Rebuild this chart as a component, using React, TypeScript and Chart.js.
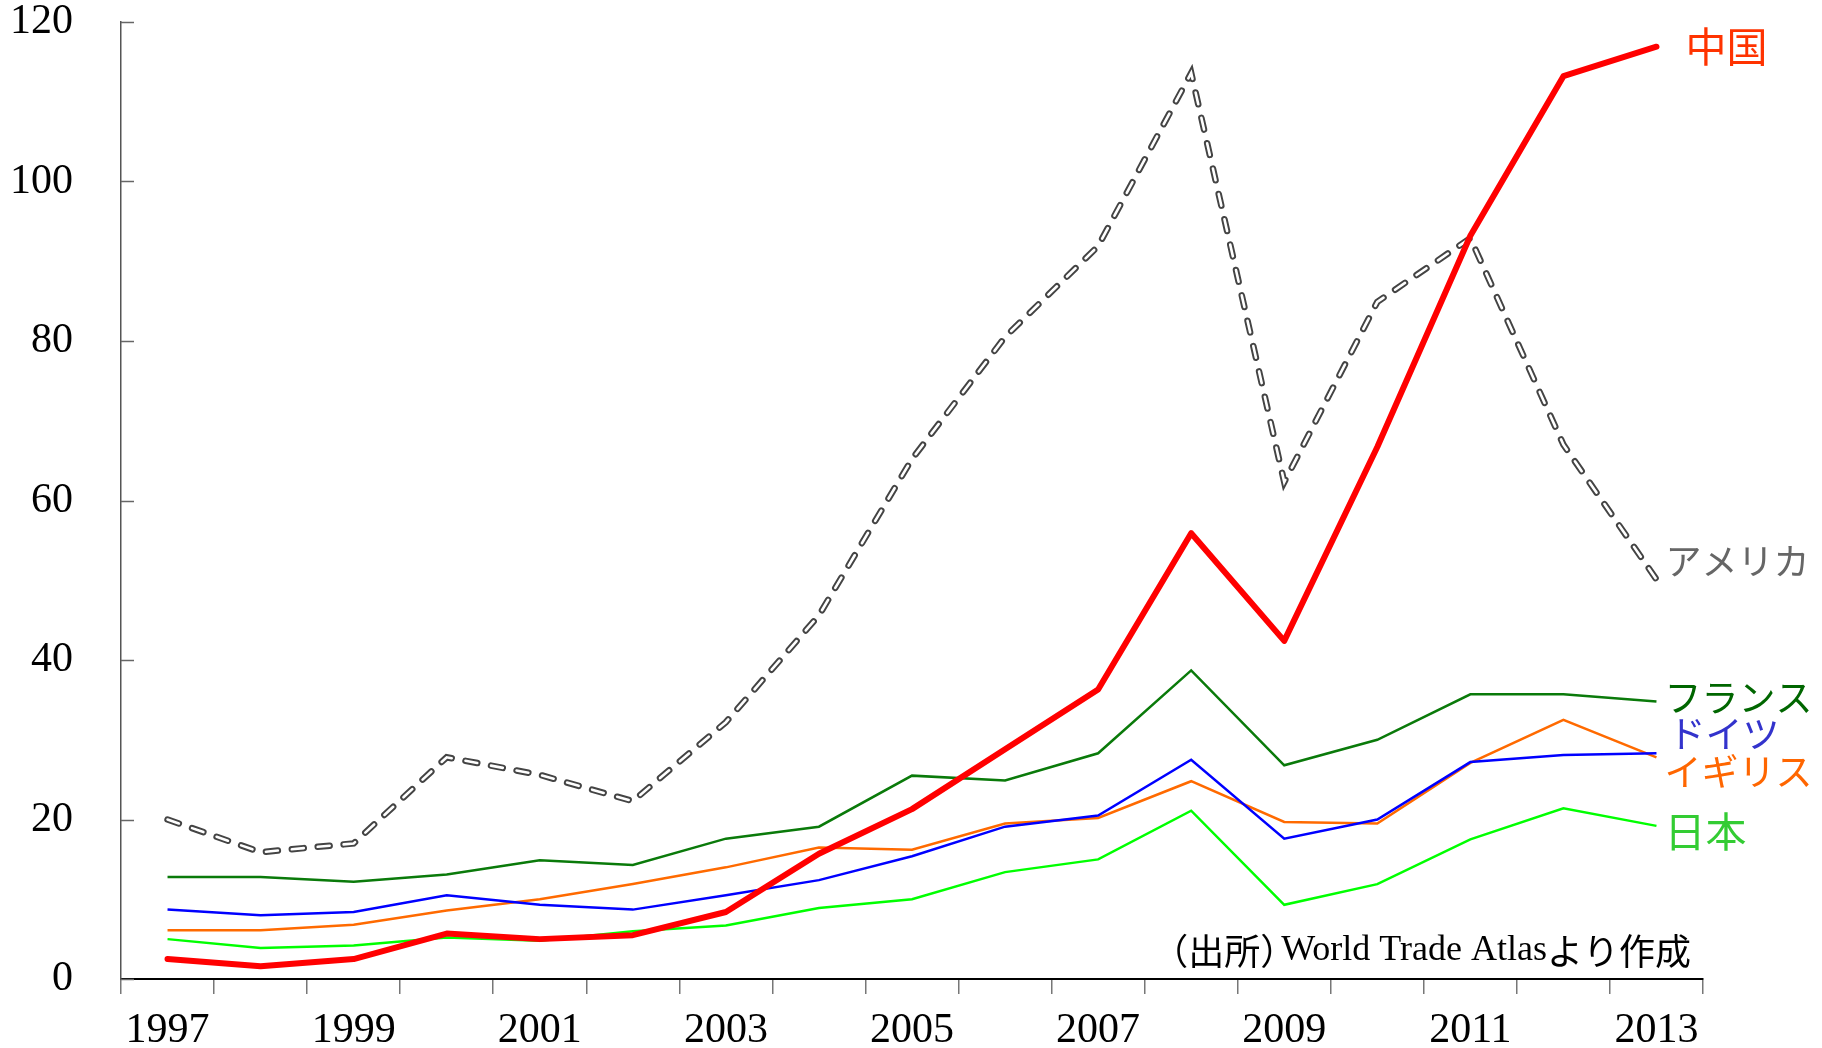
import React, { useEffect, useRef } from 'react';
import { Chart, registerables } from 'chart.js';

Chart.register(...registerables);

const years = ['1997', '1998', '1999', '2000', '2001', '2002', '2003', '2004', '2005', '2006', '2007', '2008', '2009', '2010', '2011', '2012', '2013'];
const chinaValues = [2.5, 1.6, 2.5, 5.7, 5.0, 5.5, 8.4, 15.7, 21.3, 28.8, 36.3, 55.9, 42.4, 66.7, 93.2, 113.2, 116.9];
const usaValues = [20.0, 15.9, 17.0, 27.8, 25.6, 22.3, 32.2, 45.6, 65.2, 80.5, 91.9, 113.6, 62.3, 84.9, 92.9, 67.0, 50.1];
const franceValues = [12.8, 12.8, 12.2, 13.1, 14.9, 14.3, 17.6, 19.1, 25.5, 24.9, 28.3, 38.7, 26.8, 30.0, 35.7, 35.7, 34.8];
const germanyValues = [8.7, 8.0, 8.4, 10.5, 9.3, 8.7, 10.5, 12.4, 15.4, 19.1, 20.5, 27.5, 17.6, 20.0, 27.2, 28.1, 28.3];
const ukValues = [6.1, 6.1, 6.8, 8.6, 10.0, 11.9, 14.0, 16.5, 16.2, 19.5, 20.2, 24.8, 19.7, 19.5, 27.1, 32.5, 27.8];
const japanValues = [5.0, 3.9, 4.2, 5.2, 4.8, 6.0, 6.7, 8.9, 10.0, 13.4, 15.0, 21.1, 9.3, 11.9, 17.5, 21.4, 19.2];

const yTickValues = [0, 20, 40, 60, 80, 100, 120];

const seriesNames = ['中国', 'アメリカ', 'フランス', 'ドイツ', 'イギリス', '日本'];
const seriesLabelValues = [chinaValues, usaValues, franceValues, germanyValues, ukValues, japanValues];
const labelColors = ['#ff3300', '#666666', '#006600', '#3333cc', '#ff6600', '#33cc33'];
const labelFontSizes = [41, 36, 37, 37, 37, 41];
const labelOffsetsX = [29, 9, 8, 12, 8, 8];
const labelOffsetsY = [0, -18, -4, -19, 15, 6];
const sourceNote = '（出所）World Trade Atlasより作成';

const SERIF = '"Liberation Serif", "Times New Roman", serif';
const CJK = '"Noto Sans CJK JP", "Noto Sans", sans-serif';

const annotationPlugin = {
  id: 'annotations',
  afterDraw(chart: any) {
    const ctx = chart.ctx;
    const xs = chart.scales.x;
    const ys = chart.scales.y;
    const area = chart.chartArea;
    ctx.save();
    // inward y ticks
    ctx.strokeStyle = '#666666';
    ctx.lineWidth = 1.5;
    yTickValues.forEach((v) => {
      const py = Math.round(ys.getPixelForValue(v)) + 0.5;
      ctx.beginPath();
      ctx.moveTo(area.left, py);
      ctx.lineTo(area.left + 13, py);
      ctx.stroke();
    });
    // series labels
    ctx.textAlign = 'left';
    ctx.textBaseline = 'middle';
    seriesNames.forEach((name, i) => {
      const vals = seriesLabelValues[i];
      const last = vals.length - 1;
      const px = xs.getPixelForValue(last);
      const py = ys.getPixelForValue(vals[last]);
      ctx.font = `${labelFontSizes[i]}px ${CJK}`;
      ctx.fillStyle = labelColors[i];
      ctx.fillText(name, px + labelOffsetsX[i], py + labelOffsetsY[i]);
    });
    // source note, drawn in runs (serif latin, gothic kana/kanji)
    const size = 36;
    const runs: string[] = sourceNote.match(/[\x00-\x7F]+|[^\x00-\x7F]+/g) || [];
    const measured = runs.map((r) => {
      const ascii = /^[\x00-\x7F]+$/.test(r);
      ctx.font = `${size}px ${ascii ? SERIF : CJK}`;
      let w = ctx.measureText(r).width;
      if (r.endsWith('）')) w -= size * 0.42;
      return { r, ascii, w };
    });
    const total = measured.reduce((s, m) => s + m.w, 0);
    let x = area.right - 12 - total;
    const y = area.bottom - 28;
    ctx.fillStyle = '#000000';
    ctx.textAlign = 'left';
    measured.forEach((m) => {
      ctx.font = `${size}px ${m.ascii ? SERIF : CJK}`;
      ctx.fillText(m.r, x, y);
      x += m.w;
    });
    ctx.restore();
  },
};

export default function App() {
  const ref = useRef<HTMLCanvasElement | null>(null);

  useEffect(() => {
    if (!ref.current) return;
    const lineBase = {
      pointRadius: 0,
      tension: 0,
      fill: false,
    };
    const chart = new Chart(ref.current, {
      type: 'line',
      data: {
        labels: years,
        datasets: [
          { ...lineBase, label: '中国', data: chinaValues, borderColor: '#ff0000', borderWidth: 6, borderCapStyle: 'round', borderJoinStyle: 'round' },
          { ...lineBase, label: 'アメリカ_inner', data: usaValues, borderColor: '#ffffff', borderWidth: 2.6, borderDash: [12, 14], borderCapStyle: 'round' },
          { ...lineBase, label: 'アメリカ', data: usaValues, borderColor: '#444444', borderWidth: 6.5, borderDash: [12, 14], borderCapStyle: 'round' },
          { ...lineBase, label: 'フランス', data: franceValues, borderColor: '#0a7a0a', borderWidth: 2.5 },
          { ...lineBase, label: 'ドイツ', data: germanyValues, borderColor: '#0000ff', borderWidth: 2.5 },
          { ...lineBase, label: 'イギリス', data: ukValues, borderColor: '#ff6a00', borderWidth: 2.5 },
          { ...lineBase, label: '日本', data: japanValues, borderColor: '#00ff00', borderWidth: 2.5 },
        ] as any,
      },
      options: {
        animation: false,
        responsive: false,
        maintainAspectRatio: false,
        events: [],
        layout: { padding: { left: 0, right: 119, top: 22, bottom: 0 } },
        plugins: { legend: { display: false }, tooltip: { enabled: false } },
        scales: {
          x: {
            type: 'category',
            offset: true,
            grid: {
              display: true,
              offset: true,
              drawOnChartArea: false,
              drawTicks: true,
              tickLength: 15,
              color: '#777777',
              lineWidth: 1.5,
            },
            border: { display: true, color: '#000000', width: 2 },
            ticks: {
              autoSkip: false,
              maxRotation: 0,
              minRotation: 0,
              padding: 16,
              color: '#000000',
              font: { family: SERIF, size: 42, lineHeight: 1 },
              callback: (_v: any, i: number) => (i % 2 === 0 ? years[i] : ''),
            },
            afterFit: (scale: any) => {
              scale.height = 69;
              scale.paddingLeft = 0;
              scale.paddingRight = 0;
            },
          },
          y: {
            min: 0,
            max: 120,
            grid: { display: false, drawTicks: false },
            border: { display: true, color: '#555555', width: 1.5 },
            afterBuildTicks: (scale: any) => {
              scale.ticks = yTickValues.map((v) => ({ value: v }));
            },
            ticks: {
              padding: 48,
              color: '#000000',
              font: { family: SERIF, size: 42, lineHeight: 1 },
            },
            afterFit: (scale: any) => {
              scale.width = 121;
              scale.paddingTop = 0;
              scale.paddingBottom = 0;
            },
          },
        },
      } as any,
      plugins: [annotationPlugin],
    });
    return () => chart.destroy();
  }, []);

  return (
    <div style={{ position: 'fixed', left: 0, top: 0, width: 1822, height: 1048, background: '#ffffff' }}>
      <canvas ref={ref} width={1822} height={1048} style={{ display: 'block' }} />
    </div>
  );
}
